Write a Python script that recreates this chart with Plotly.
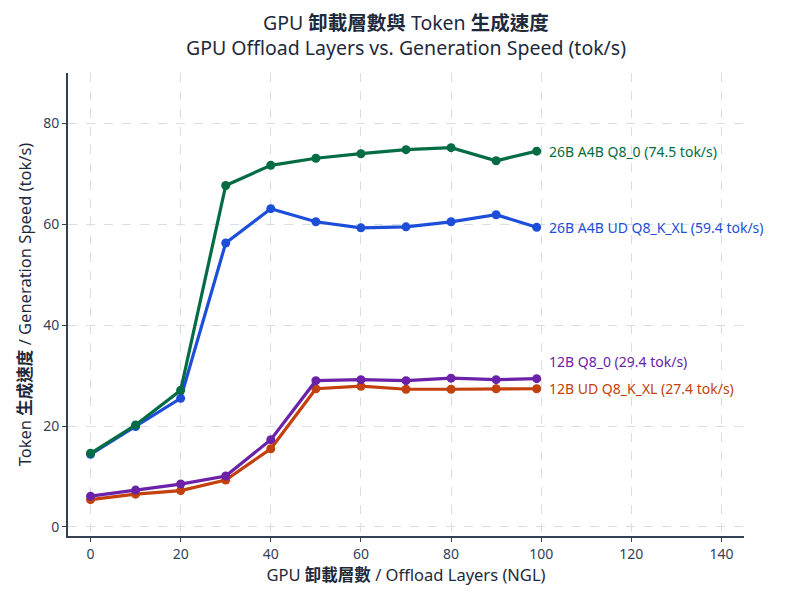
import plotly.graph_objects as go

ngl = [0, 10, 20, 30, 40, 50, 60, 70, 80, 90, 99]

series_names = [
    "26B A4B Q8_0",
    "26B A4B UD Q8_K_XL",
    "12B Q8_0",
    "12B UD Q8_K_XL",
]
speed_26b_q8 = [14.6, 20.2, 27.1, 67.7, 71.7, 73.1, 74.0, 74.8, 75.2, 72.6, 74.5]
speed_26b_ud = [14.4, 19.9, 25.5, 56.3, 63.1, 60.5, 59.3, 59.5, 60.5, 61.9, 59.4]
speed_12b_q8 = [6.1, 7.3, 8.5, 10.1, 17.3, 29.0, 29.2, 29.0, 29.5, 29.2, 29.4]
speed_12b_ud = [5.4, 6.5, 7.2, 9.3, 15.5, 27.4, 27.9, 27.3, 27.3, 27.4, 27.4]

title_line1 = "GPU <b>卸載層數與</b> Token <b>生成速度</b>"
title_line2 = "GPU Offload Layers vs. Generation Speed (tok/s)"

colors = ["#046c44", "#1d4ed8", "#6b21a8", "#c2410c"]
all_speeds = [speed_26b_q8, speed_26b_ud, speed_12b_q8, speed_12b_ud]
label_shift_y = [0, 0, 17, 0]

FONT = "Noto Sans, Noto Sans CJK TC, sans-serif"

fig = go.Figure()
order = [3, 2, 1, 0]
for i in order:
    fig.add_trace(go.Scatter(
        x=ngl, y=all_speeds[i], mode="lines+markers", name=series_names[i],
        line=dict(color=colors[i], width=3.2),
        marker=dict(color=colors[i], size=9),
        showlegend=False,
    ))

for i in range(4):
    fig.add_annotation(
        x=ngl[-1], y=all_speeds[i][-1], xref="x", yref="y",
        text=f"{series_names[i]} ({all_speeds[i][-1]:.1f} tok/s)",
        showarrow=False, xanchor="left", yanchor="middle",
        xshift=10, yshift=label_shift_y[i],
        font=dict(color=colors[i], size=14, family=FONT),
    )

for txt, yy in [(title_line1, 1.110), (title_line2, 1.056)]:
    fig.add_annotation(
        x=0.5, y=yy, xref="paper", yref="paper", text=txt, showarrow=False,
        xanchor="center", yanchor="middle",
        font=dict(size=19.5, color="#1e293b", family=FONT),
    )

fig.update_layout(
    width=800, height=600,
    paper_bgcolor="white", plot_bgcolor="white",
    margin=dict(l=68, r=56, t=73, b=64),
    font=dict(family=FONT, color="#1e293b"),
    xaxis=dict(
        range=[-5, 145], tickvals=[0, 20, 40, 60, 80, 100, 120, 140],
        showgrid=True, gridcolor="#d6dee8", griddash="dash", gridwidth=1,
        showline=True, linecolor="#334155", linewidth=2,
        ticks="outside", ticklen=4, tickcolor="#334155",
        zeroline=False,
        tickfont=dict(size=14, color="#334155"),
        title=dict(text="GPU <b>卸載層數</b> / Offload Layers (NGL)", font=dict(size=16.5, color="#1e293b"), standoff=7),
    ),
    yaxis=dict(
        range=[-1.8, 90], tickvals=[0, 20, 40, 60, 80],
        showgrid=True, gridcolor="#d6dee8", griddash="dash", gridwidth=1,
        showline=True, linecolor="#334155", linewidth=2,
        ticks="outside", ticklen=4, tickcolor="#334155",
        zeroline=False,
        tickfont=dict(size=14, color="#334155"),
        title=dict(text="Token <b>生成速度</b> / Generation Speed (tok/s)", font=dict(size=16.5, color="#1e293b"), standoff=7),
    ),
)

fig.write_html("out.html")
